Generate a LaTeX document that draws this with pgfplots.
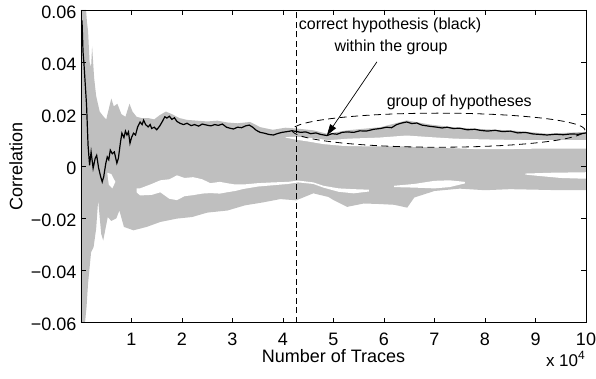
\documentclass[border=0pt]{standalone}
\usepackage{pgfplots}
\pgfplotsset{compat=1.18}
\usepackage{fontspec}
\setmainfont{Liberation Sans}
\usetikzlibrary{arrows.meta}
\definecolor{lgray}{RGB}{191,191,191}
\begin{document}
\begin{tikzpicture}
\begin{axis}[
  scale only axis, width=505pt, height=312.5pt,
  xmin=0, xmax=10, ymin=-0.06, ymax=0.06,
  scaled x ticks=false, scaled y ticks=false,
  xtick={1,2,3,4,5,6,7,8,9,10},
  xticklabels={1,2,3,4,5,6,7,8,9,10},
  ytick={-0.06,-0.04,-0.02,0,0.02,0.04,0.06},
  yticklabels={−0.06,−0.04,−0.02,0,0.02,0.04,0.06},
  tick align=inside, major tick length=5pt,
  tick style={line width=0.6pt, black},
  axis line style={line width=0.7pt},
  axis on top,
  ticklabel style={font=\fontsize{18}{20}\selectfont},
  xticklabel style={anchor=base, yshift=-22.5pt, inner sep=0pt},
  yticklabel style={anchor=east, inner sep=0pt, xshift=-4.3pt, yshift=-2pt},
]
% gray band (envelope of all wrong hypotheses)
\addplot[fill=lgray, draw=none] coordinates {
(0.00,0.060) (0.10,0.060) (0.12,0.055) (0.14,0.052) (0.17,0.040) (0.20,0.038)
(0.22,0.046) (0.26,0.034) (0.30,0.027) (0.37,0.021) (0.45,0.019) (0.50,0.018)
(0.55,0.022) (0.60,0.026) (0.65,0.023) (0.72,0.024) (0.80,0.020) (0.88,0.019)
(0.96,0.024) (1.02,0.021) (1.10,0.019) (1.20,0.0185) (1.33,0.0185) (1.45,0.0180)
(1.55,0.0195) (1.68,0.0210) (1.80,0.0200) (1.95,0.0185) (2.10,0.0178) (2.30,0.0175)
(2.50,0.0172) (2.70,0.0175) (2.90,0.0168) (3.10,0.0165) (3.35,0.0170) (3.55,0.0150)
(3.80,0.0140) (4.05,0.0148) (4.26,0.0145) (4.60,0.0138) (4.87,0.0125) (5.27,0.0138)
(5.93,0.0150) (6.45,0.0176) (6.92,0.0160) (7.37,0.0150) (7.90,0.0143) (8.56,0.0137)
(9.23,0.0125) (10.0,0.0132)
(10.0,-0.0092) (9.50,-0.0092) (9.00,-0.0090) (8.50,-0.0088) (8.00,-0.0092) (7.50,-0.0086)
(7.00,-0.0095) (6.60,-0.0120) (6.46,-0.0159) (6.20,-0.0148) (5.90,-0.0145) (5.60,-0.0143)
(5.27,-0.0156) (5.00,-0.0130) (4.90,-0.0118) (4.60,-0.0104) (4.26,-0.0131) (3.95,-0.0126)
(3.60,-0.0139) (3.25,-0.0150) (2.90,-0.0170) (2.50,-0.0178) (2.20,-0.0195) (1.90,-0.0201)
(1.57,-0.0214) (1.30,-0.0233) (1.04,-0.0246) (0.85,-0.0233) (0.76,-0.0170) (0.70,-0.0200)
(0.60,-0.0210) (0.53,-0.0195) (0.44,-0.0285) (0.40,-0.0260) (0.34,-0.0130) (0.30,-0.0240)
(0.25,-0.0310) (0.20,-0.0330) (0.14,-0.0450) (0.11,-0.0540) (0.08,-0.0600) (0.00,-0.0600)
};
% white gap between the group of hypotheses and the rest
\addplot[fill=white, draw=none] coordinates {
(4.05,0.0112) (4.26,0.0113) (4.60,0.0108) (4.90,0.0100) (5.30,0.0106) (5.90,0.0110)
(6.45,0.0118) (6.90,0.0112) (7.40,0.0106) (8.00,0.0103) (8.60,0.0101) (9.20,0.0100)
(10.0,0.0100)
(10.0,0.0068) (9.20,0.0068) (8.50,0.0066) (7.80,0.0066) (7.00,0.0072) (6.40,0.0076)
(5.80,0.0076) (5.20,0.0078) (4.80,0.0085) (4.50,0.0095) (4.26,0.0102) (4.05,0.0110)
};
% white channel in the lower part
\addplot[fill=white, draw=none] coordinates {
(1.10,-0.0085) (1.17,-0.0085) (1.40,-0.0068) (1.57,-0.0054) (1.75,-0.0050) (1.90,-0.0035)
(2.05,-0.0045) (2.22,-0.0042) (2.40,-0.0050) (2.56,-0.0065) (2.75,-0.0060) (2.89,-0.0065)
(3.05,-0.0070) (3.22,-0.0070) (3.50,-0.0065) (3.80,-0.0062) (4.10,-0.0060) (4.30,-0.0055)
(4.60,-0.0062) (4.80,-0.0075) (5.10,-0.0085) (5.40,-0.0088) (5.70,-0.0090)
(5.70,-0.0097) (5.40,-0.0104) (5.10,-0.0098) (4.80,-0.0082) (4.60,-0.0068) (4.30,-0.0062)
(4.10,-0.0068) (3.80,-0.0073) (3.50,-0.0078) (3.22,-0.0087) (3.05,-0.0095) (2.89,-0.0100)
(2.75,-0.0105) (2.56,-0.0103) (2.40,-0.0105) (2.22,-0.0111) (2.05,-0.0115) (1.90,-0.0130)
(1.75,-0.0125) (1.57,-0.0100) (1.40,-0.0110) (1.17,-0.0112) (1.10,-0.0100)
};
\addplot[fill=white, draw=none] coordinates {
(6.20,-0.0075) (6.60,-0.0068) (7.00,-0.0056) (7.30,-0.0054) (7.60,-0.0060)
(7.60,-0.0066) (7.30,-0.0080) (7.00,-0.0085) (6.60,-0.0082) (6.20,-0.0080)
};
\addplot[fill=white, draw=none] coordinates {
(8.80,-0.0028) (9.30,-0.0025) (10.0,-0.0023)
(10.0,-0.0048) (9.50,-0.0045) (9.00,-0.0036) (8.80,-0.0032)
};
\addplot[fill=white, draw=none] coordinates {
(0.52,-0.0025) (0.60,-0.0030) (0.68,-0.0060) (0.62,-0.0085) (0.55,-0.0070)
};
% correct hypothesis
\addplot[black, line width=1.2pt] coordinates {
(0.02,0.056) (0.04,0.044) (0.06,0.039) (0.11,0.0235) (0.14,0.008) (0.17,0.0004)
(0.20,0.0055) (0.24,-0.0008) (0.28,0.0030) (0.31,0.0042) (0.35,-0.0008) (0.39,-0.004)
(0.42,-0.006) (0.45,-0.004) (0.49,0.001) (0.52,0.0036) (0.55,0.0025) (0.58,0.0062)
(0.62,0.0048) (0.66,0.0055) (0.71,0.0012) (0.74,0.0030) (0.78,0.0090) (0.81,0.0127)
(0.85,0.0110) (0.88,0.0135) (0.91,0.0120) (0.94,0.0132) (0.97,0.0088) (1.00,0.0110)
(1.04,0.0127) (1.08,0.0120) (1.12,0.0150) (1.17,0.0170) (1.21,0.0160) (1.24,0.0177)
(1.28,0.0160) (1.33,0.0151) (1.37,0.0160) (1.40,0.0145) (1.45,0.0150) (1.50,0.0140)
(1.56,0.0155) (1.62,0.0175) (1.66,0.0190) (1.70,0.0185) (1.75,0.0192) (1.80,0.0180)
(1.85,0.0186) (1.90,0.0172) (1.96,0.0165) (2.03,0.0160) (2.10,0.0165) (2.18,0.0156)
(2.25,0.0160) (2.33,0.0154) (2.40,0.0162) (2.49,0.0158) (2.57,0.0155) (2.65,0.0160)
(2.72,0.0157) (2.80,0.0162) (2.88,0.0150) (2.95,0.0146) (3.02,0.0143) (3.10,0.0150)
(3.18,0.0148) (3.26,0.0155) (3.33,0.0158) (3.40,0.0150) (3.47,0.0138) (3.55,0.0130)
(3.63,0.0127) (3.72,0.0122) (3.81,0.0120) (3.90,0.0126) (3.98,0.0130) (4.08,0.0133)
(4.17,0.0136) (4.26,0.0134) (4.35,0.0130) (4.45,0.0132) (4.55,0.0125) (4.65,0.0128)
(4.75,0.0122) (4.87,0.0118) (4.97,0.0125) (5.07,0.0123) (5.17,0.0130) (5.27,0.0132)
(5.40,0.0130) (5.52,0.0136) (5.65,0.0135) (5.80,0.0142) (5.93,0.0145) (6.05,0.0150)
(6.15,0.0148) (6.25,0.0160) (6.35,0.0166) (6.45,0.0170) (6.55,0.0164) (6.65,0.0166)
(6.75,0.0158) (6.85,0.0155) (6.92,0.0153) (7.05,0.0150) (7.15,0.0147) (7.25,0.0150)
(7.37,0.0145) (7.50,0.0146) (7.65,0.0140) (7.80,0.0142) (7.90,0.0138) (8.05,0.0135)
(8.20,0.0138) (8.35,0.0133) (8.50,0.0135) (8.65,0.0128) (8.80,0.0130) (8.95,0.0124)
(9.10,0.0122) (9.23,0.0120) (9.40,0.0123) (9.55,0.0121) (9.70,0.0124) (9.85,0.0123)
(10.0,0.0128)
};
% vertical dashed line
\addplot[black, line width=0.8pt, dash pattern=on 6pt off 3.5pt] coordinates {(4.26,-0.06) (4.26,0.06)};
% ellipse around the group
\draw[black, line width=0.8pt, dash pattern=on 7pt off 4.5pt] (axis cs:7.08,0.01385) ellipse [x radius=2.9, y radius=0.00654];
\draw[black, line width=0.7pt, -{Triangle[length=11pt,width=7pt]}] (axis cs:5.86,0.0401) -- (axis cs:4.87,0.0119);
\node[anchor=base, inner sep=0pt, font=\fontsize{16}{18}\selectfont] at (axis cs:6.12,0.0526) {correct hypothesis (black)};
\node[anchor=base, inner sep=0pt, font=\fontsize{16}{18}\selectfont] at (axis cs:6.14,0.0440) {within the group};
\node[anchor=base, inner sep=0pt, font=\fontsize{16}{18}\selectfont] at (axis cs:7.49,0.0231) {group of hypotheses};
\coordinate (SW) at (rel axis cs:0,0);
\coordinate (NE) at (rel axis cs:1,1);
\coordinate (SE) at (rel axis cs:1,0);
\coordinate (YL) at (rel axis cs:0,0.5);
\coordinate (XL) at (rel axis cs:0.5,0);
\end{axis}
\node[rotate=90, anchor=center, font=\fontsize{18}{20}\selectfont] at ([xshift=-65pt]YL) {Correlation};
\node[anchor=base, inner sep=0pt, font=\fontsize{18}{20}\selectfont] at ([yshift=-39.5pt]XL) {Number of Traces};
\node[anchor=base east, inner sep=0pt, font=\fontsize{17}{20}\selectfont] at ([xshift=-1pt,yshift=-43.5pt]SE) {x 10\raisebox{7pt}{\fontsize{12}{12}\selectfont 4}};
\pgfresetboundingbox
\path[use as bounding box] ([xshift=-81pt,yshift=-55.5pt]SW) rectangle ([xshift=10pt,yshift=10pt]NE);
\end{tikzpicture}
\end{document}
